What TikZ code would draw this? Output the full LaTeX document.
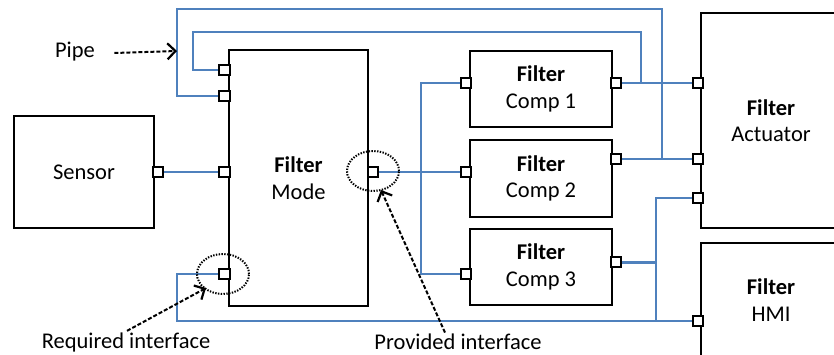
\documentclass[tikz,border=0pt]{standalone}
\usepackage{fontspec}
\setmainfont{Carlito}
\usetikzlibrary{arrows.meta,backgrounds,shapes.geometric}
\definecolor{pipeblue}{RGB}{79,129,189}
\begin{document}
\begin{tikzpicture}[x=1pt,y=-1pt,
  every node/.style={font=\fontsize{22.5}{26.5}\selectfont},
  comp/.style={draw,line width=2.4pt,inner sep=0pt,align=center},
  port/.style={draw,line width=2.4pt,fill=white,minimum size=10.5pt,inner sep=0pt},
  pipe/.style={draw=pipeblue,line width=2pt},
  note/.style={draw,line width=2pt,dash pattern=on 4pt off 2pt,-{Straight Barb[length=8pt,width=16pt,line width=2.2pt]}},
  ring/.style={draw,line width=2pt,dash pattern=on 1.4pt off 1.4pt,ellipse,minimum width=52pt,minimum height=40pt,inner sep=0pt}
]
\useasboundingbox (0,0) rectangle (834,355);
\clip (0,0) rectangle (834,355);
% boxes
\node[comp,minimum width=140pt,minimum height=112pt] (sensor) at (84,172) {Sensor};
\node[comp,minimum width=139pt,minimum height=256pt] (mode) at (298.5,178) {\textbf{Filter}\\Mode};
\node[comp,minimum width=142pt,minimum height=76pt] (comp1) at (541,89) {\textbf{Filter}\\Comp 1};
\node[comp,minimum width=142pt,minimum height=77pt] (comp2) at (541,178.5) {\textbf{Filter}\\Comp 2};
\node[comp,minimum width=142pt,minimum height=76pt] (comp3) at (541,267) {\textbf{Filter}\\Comp 3};
\node[comp,minimum width=140pt,minimum height=215pt] (act) at (771,120.5) {\textbf{Filter}\\Actuator};
\node[comp,minimum width=140pt,minimum height=114pt] (hmi) at (771,300) {\textbf{Filter}\\HMI};
% ports
\node[port] (s1) at (158,172) {};
\node[port] (m1) at (224.5,70) {};
\node[port] (m2) at (224.5,96) {};
\node[port] (m3) at (224.5,172) {};
\node[port] (m4) at (224.5,274) {};
\node[port] (mr) at (373,172) {};
\node[port] (c1l) at (466,83) {};
\node[port] (c1r) at (616,83) {};
\node[port] (c2l) at (466,172) {};
\node[port] (c2r) at (616,159) {};
\node[port] (c3l) at (466,274) {};
\node[port] (c3r) at (616,262) {};
\node[port] (a1) at (698,83) {};
\node[port] (a2) at (698,159) {};
\node[port] (a3) at (698,198) {};
\node[port] (h1) at (698,321) {};
\coordinate (j3) at (656,262);
% connectors
\begin{pgfonlayer}{background}
\draw[pipe] (m2.center) -| (177,9) -- (662,9) |- (a2.center);
\draw[pipe] (m1.center) -| (193,32) -- (641,32) |- (a1.center);
\draw[pipe] (s1.center) -- (m3.center);
\draw[pipe] (mr.center) -- (c2l.center);
\draw[pipe] (c1l.center) -- ++(-45,0) |- (c3l.center);
\draw[pipe] (c1r.center) -- (a1.center);
\draw[pipe] (c2r.center) -- (a2.center);
\draw[pipe,line width=3pt] (c3r.center) -- (j3);
\draw[pipe] (a3.center) -- ++(-42,0) |- (h1.center);
\draw[pipe] (m4.center) -| (177,321) -- (h1.center);
\end{pgfonlayer}
% annotations
\node[ring] (ring1) at (373,171) {};
\node[ring] (ring2) at (223,274) {};
\node (pipelbl) at (75,52) {Pipe};
\coordinate (pipetip) at (177,51);
\draw[note] ([xshift=16pt,yshift=-1pt]pipelbl.east) -- (pipetip);
\node (req) at (126,342) {Required interface};
\node (prov) at (458,342) {Provided interface};
\coordinate (reqtip) at (206,288);
\coordinate (provtip) at (381,190);
\draw[note] ([xshift=1pt,yshift=-2pt]req.north) -- (reqtip);
\draw[note] ([xshift=-13pt,yshift=-2pt]prov.north) -- (provtip);
\end{tikzpicture}
\end{document}
